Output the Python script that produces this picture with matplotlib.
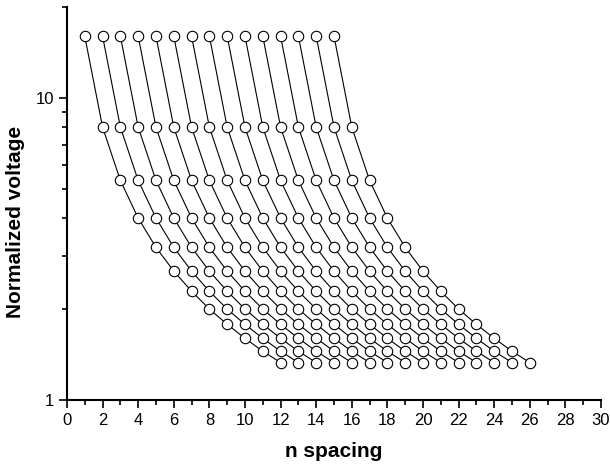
import matplotlib
matplotlib.use("Agg")
import matplotlib.pyplot as plt
from matplotlib.ticker import MultipleLocator, LogLocator, NullFormatter, FixedLocator, FixedFormatter

plt.rcParams['font.family'] = ['Liberation Sans', 'DejaVu Sans']

# Normalized voltage levels (top to bottom)
voltages = [16.0, 8.0, 5.33, 4.0, 3.2, 2.67, 2.29, 2.0, 1.78, 1.6, 1.45, 1.33]
# Starting n spacing of each series
starts = [1, 2, 3, 4, 5, 6, 7, 8, 9, 10, 11, 12, 13, 14, 15]

fig = plt.figure(figsize=(6.1, 4.65), dpi=100)
ax = fig.add_axes([0.1098, 0.1398, 0.8755, 0.8452])

for s in starts:
    xs = [s + i for i in range(len(voltages))]
    ax.plot(xs, voltages, color='black', lw=0.8, marker='o', ms=7.5,
            mfc='white', mec='black', mew=0.8)

ax.set_yscale('log')
ax.set_xlim(0, 30)
ax.set_ylim(1, 20)
ax.xaxis.set_major_locator(MultipleLocator(2))
ax.xaxis.set_minor_locator(MultipleLocator(1))
ax.yaxis.set_major_locator(FixedLocator([1, 10]))
ax.yaxis.set_major_formatter(FixedFormatter(['1', '10']))
ax.yaxis.set_minor_locator(LogLocator(base=10, subs=range(2, 10)))
ax.yaxis.set_minor_formatter(NullFormatter())

for sp in ['top', 'right']:
    ax.spines[sp].set_visible(False)
for sp in ['left', 'bottom']:
    ax.spines[sp].set_linewidth(1.5)

ax.tick_params(which='major', direction='out', length=6, width=1.2, labelsize=12)
ax.tick_params(which='minor', direction='out', length=3.5, width=1.2)

ax.set_xlabel('n spacing', fontsize=15, fontweight='bold', labelpad=10)
ax.set_ylabel('Normalized voltage', fontsize=15, fontweight='bold')
ax.yaxis.set_label_coords(-0.078, 0.453)

fig.savefig('out.png', dpi=100)
